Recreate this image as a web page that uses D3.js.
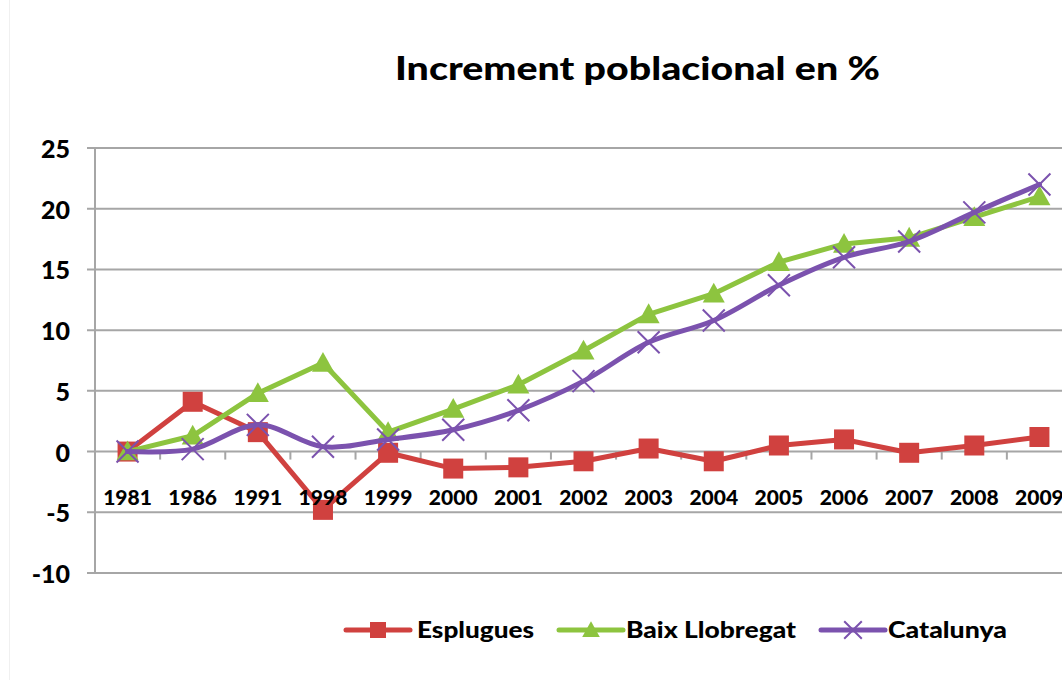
<!DOCTYPE html>
<html><head><meta charset="utf-8">
<script src="https://cdn.jsdelivr.net/npm/d3@7"></script>
<style>
html,body{margin:0;padding:0;background:#fff;}
text{font-family:Lato,"Open Sans",sans-serif;font-weight:900;fill:#000;}
</style></head>
<body><svg id="c" width="1062" height="680"></svg>
<script>
const years = ["1981","1986","1991","1998","1999","2000","2001","2002","2003","2004","2005","2006","2007","2008","2009"];
const esplugues = [0, 4.1, 1.6, -4.8, -0.1, -1.4, -1.3, -0.8, 0.25, -0.8, 0.5, 1.0, -0.1, 0.5, 1.2];
const baix = [0, 1.3, 4.8, 7.3, 1.6, 3.5, 5.5, 8.3, 11.3, 13.0, 15.6, 17.1, 17.6, 19.3, 21.0];
const catalunya = [0, 0.2, 2.2, 0.4, 1.0, 1.8, 3.4, 5.8, 9.0, 10.8, 13.7, 16.0, 17.3, 19.7, 22.0];
const yTicks = [25, 20, 15, 10, 5, 0, -5, -10];
const seriesNames = ["Esplugues", "Baix Llobregat", "Catalunya"];
const colors = ["#D0413F", "#8DC43F", "#7B52AE"];
const titleText = "Increment poblacional en %";

const svg = d3.select("#c");
const pLeft = 95, pRight = 1072, pTop = 148, pBottom = 573;
const x = d3.scaleBand().domain(years).range([pLeft, pRight]);
const y = d3.scaleLinear().domain([-10, 25]).range([pBottom, pTop]);

// faint frame
svg.append("line").attr("x1",9.5).attr("x2",9.5).attr("y1",0).attr("y2",680).attr("stroke","#f0f0f0");

// title
svg.append("text").attr("x", 395).attr("y", 80)
  .attr("textLength", 485).attr("lengthAdjust","spacingAndGlyphs")
  .style("font-size","32px").text(titleText);

// gridlines
svg.append("g").selectAll("line").data(yTicks).join("line")
  .attr("x1", 87).attr("x2", pRight).attr("y1", d=>y(d)).attr("y2", d=>y(d))
  .attr("stroke","#A6A6A6").attr("stroke-width",2);
// y axis line
svg.append("line").attr("x1",pLeft).attr("x2",pLeft).attr("y1",pTop).attr("y2",pBottom)
  .attr("stroke","#A6A6A6").attr("stroke-width",2);
// y labels
svg.append("g").selectAll("text").data(yTicks).join("text")
  .attr("x", 70).attr("y", d=>y(d)+10).attr("text-anchor","end")
  .style("font-size","25px").text(d=>d);

// x axis ticks at y=0
const xt = d3.range(years.length+1).map(i=> pLeft + i*x.step());
svg.append("g").selectAll("line").data(xt).join("line")
  .attr("x1",d=>d).attr("x2",d=>d).attr("y1",y(0)).attr("y2",y(0)+8)
  .attr("stroke","#A6A6A6").attr("stroke-width",2);

const cx = d => x(d)+x.bandwidth()/2;
const data = [esplugues, baix, catalunya];
const curves = [d3.curveLinear, d3.curveLinear, d3.curveCatmullRom];
data.forEach((vals, si) => {
  const pts = years.map((yr,i)=>[cx(yr), y(vals[i])]);
  svg.append("path").attr("d", d3.line().curve(curves[si])(pts))
    .attr("fill","none").attr("stroke",colors[si]).attr("stroke-width",5)
    .attr("stroke-linejoin","round").attr("stroke-linecap","round");
  const g = svg.append("g");
  pts.forEach(p => drawMarker(g, si, p[0], p[1], 1));
});

// x labels drawn over the series
svg.append("g").selectAll("text").data(years).join("text")
  .attr("x", d=>cx(d)).attr("y", 505).attr("text-anchor","middle")
  .style("font-size","21px").text(d=>d);

function drawMarker(g, si, px, py, s) {
  if (si === 0) {
    g.append("rect").attr("x", px-10*s).attr("y", py-10*s).attr("width",20*s).attr("height",20*s).attr("fill",colors[0]);
  } else if (si === 1) {
    const h = 11*s;
    g.append("path").attr("d", `M${px},${py-h}L${px+h},${py+h*0.8}L${px-h},${py+h*0.8}Z`).attr("fill",colors[1]);
  } else {
    const r = 11*s;
    g.append("path").attr("d", `M${px-r},${py-r}L${px+r},${py+r}M${px-r},${py+r}L${px+r},${py-r}`)
      .attr("stroke",colors[2]).attr("stroke-width",2);
  }
}

// legend
const legX = [346, 559, 821];
const legTextX = [417, 626, 888];
const legTextW = [117, 170, 119];
const ly = 630;
seriesNames.forEach((n, i) => {
  const g = svg.append("g");
  g.append("line").attr("x1", legX[i]).attr("x2", legX[i]+64).attr("y1", ly).attr("y2", ly)
    .attr("stroke", colors[i]).attr("stroke-width",5).attr("stroke-linecap","round");
  drawMarker(g, i, legX[i]+32, ly, 0.8);
  g.append("text").attr("x", legTextX[i]).attr("y", ly+8)
    .attr("textLength", legTextW[i]).attr("lengthAdjust","spacingAndGlyphs")
    .style("font-size","22px").text(n);
});
</script></body></html>
